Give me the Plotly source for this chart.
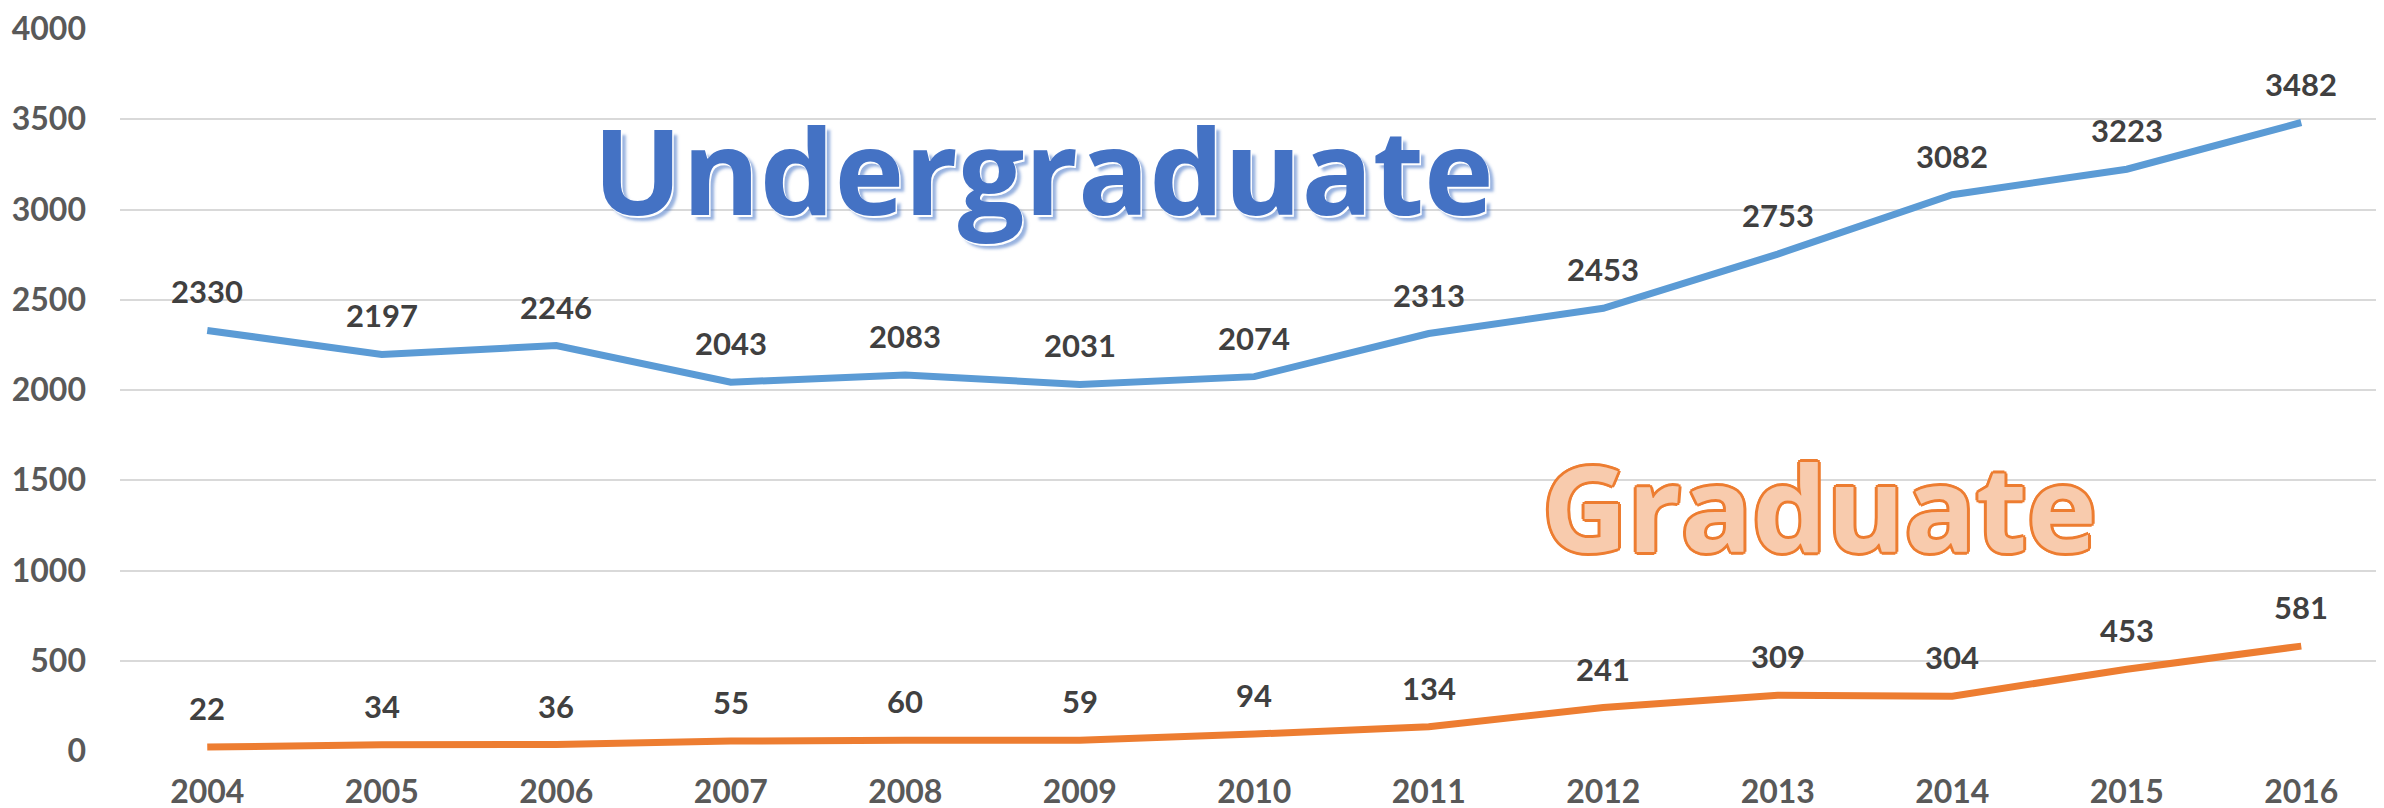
import plotly.graph_objects as go

years = ["2004", "2005", "2006", "2007", "2008", "2009", "2010",
         "2011", "2012", "2013", "2014", "2015", "2016"]
undergraduate = [2330, 2197, 2246, 2043, 2083, 2031, 2074, 2313, 2453, 2753, 3082, 3223, 3482]
graduate = [22, 34, 36, 55, 60, 59, 94, 134, 241, 309, 304, 453, 581]
y_ticks = [0, 500, 1000, 1500, 2000, 2500, 3000, 3500, 4000]

BLUE = "#5B9BD5"
ORANGE = "#ED7D31"
FONT = "Lato"
BIG_FONT = "Open Sans"

xs = list(range(len(years)))

fig = go.Figure()
fig.add_trace(go.Scatter(x=xs, y=undergraduate, mode="lines",
                         line=dict(color=BLUE, width=7), name="Undergraduate",
                         hoverinfo="skip"))
fig.add_trace(go.Scatter(x=xs, y=graduate, mode="lines",
                         line=dict(color=ORANGE, width=7), name="Graduate",
                         hoverinfo="skip"))

annotations = []
for series in (undergraduate, graduate):
    for x, v in zip(xs, series):
        annotations.append(dict(
            x=x, y=v, xref="x", yref="y", text=str(v), showarrow=False,
            yshift=39, font=dict(family=FONT, size=31, color="#404040", weight="bold")))

annotations.append(dict(
    x=4.79, y=3221, xref="x", yref="y", text="Undergraduate", showarrow=False,
    xanchor="center", yanchor="middle",
    font=dict(family=BIG_FONT, size=118, color="#4472C4", weight="bold",
              shadow="1.5px 1.5px 0 #ffffff, 5px 5px 3px rgba(68,114,196,0.55)")))

o = ORANGE
outline = ", ".join([f"{dx}px {dy}px 0 {o}" for dx, dy in
                     [(-3, 0), (3, 0), (0, -3), (0, 3), (-2, -2), (2, -2), (-2, 2), (2, 2)]])
annotations.append(dict(
    x=9.24, y=1354, xref="x", yref="y", text="Graduate", showarrow=False,
    xanchor="center", yanchor="middle",
    font=dict(family=BIG_FONT, size=118, color="#F8CBAD", weight="bold", shadow=outline)))

fig.update_layout(
    width=2384, height=808,
    margin=dict(l=112, r=0, t=19, b=65),
    paper_bgcolor="white", plot_bgcolor="white",
    showlegend=False,
    annotations=annotations,
    xaxis=dict(range=[-0.5, 12.52], tickvals=xs, ticktext=years,
               showgrid=False, zeroline=False, showline=False,
               ticks="", ticklabelstandoff=19,
               tickfont=dict(family=FONT, size=32, color="#595959", weight="bold")),
    yaxis=dict(range=[0, 4000], tickvals=y_ticks, showgrid=True,
               gridcolor="#D9D9D9", gridwidth=2, zeroline=False, showline=False,
               ticks="", ticklabelstandoff=33, ticklabeloverflow="allow",
               tickfont=dict(family=FONT, size=32, color="#595959", weight="bold")),
)

fig.write_html("out.html")
